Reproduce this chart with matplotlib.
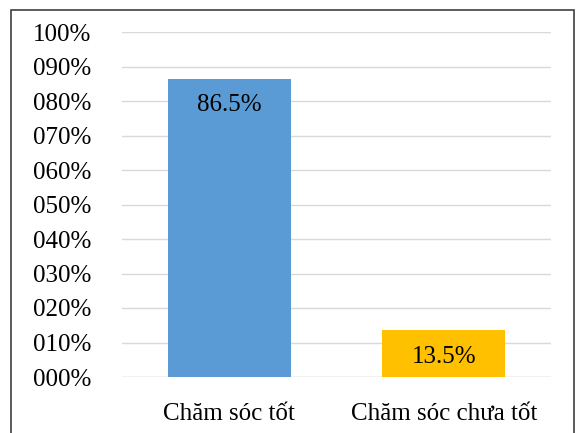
import matplotlib.pyplot as plt
import matplotlib.ticker as mticker

categories = ["Chăm sóc tốt", "Chăm sóc chưa tốt"]
values = [0.865, 0.135]
labels = ["86.5%", "13.5%"]
colors = ["#5B9BD5", "#FFC000"]

plt.rcParams['font.family'] = ['Liberation Serif', 'DejaVu Serif']

fig = plt.figure(figsize=(5.76, 4.33), dpi=100)
ax = fig.add_axes([122 / 576, 1 - 377 / 433, 429 / 576, 345 / 433])

x = range(len(categories))
bars = ax.bar(x, values, width=0.575, color=colors, zorder=2)
for b, lab in zip(bars, labels):
    ax.text(b.get_x() + b.get_width() / 2, b.get_height() - 0.078, lab,
            ha="center", va="center", fontsize=18, color="black", zorder=3)

ax.set_xlim(-0.5, 1.5)
ax.set_ylim(0, 1.0)
ax.set_yticks([i / 10 for i in range(11)])
ax.yaxis.set_major_formatter(mticker.FuncFormatter(lambda v, p: "%03d%%" % round(v * 100)))
ax.set_xticks(list(x))
ax.set_xticklabels(categories)
ax.tick_params(axis="both", length=0, labelsize=18, colors="black")
ax.tick_params(axis="y", pad=22)
ax.tick_params(axis="x", pad=19)
ax.grid(axis="y", color="#d9d9d9", linewidth=1, zorder=0)
for s in ax.spines.values():
    s.set_visible(False)
ax.axhline(0, color="#d9d9d9", linewidth=1, zorder=1)

# outer border of chart area
fig.patches.append(plt.Rectangle((11 / 576, -0.05), (574 - 11) / 576, 1.05 - 10 / 433,
                                 transform=fig.transFigure, fill=False,
                                 edgecolor="#404040", linewidth=1.2))

fig.savefig("out.png", dpi=100)
